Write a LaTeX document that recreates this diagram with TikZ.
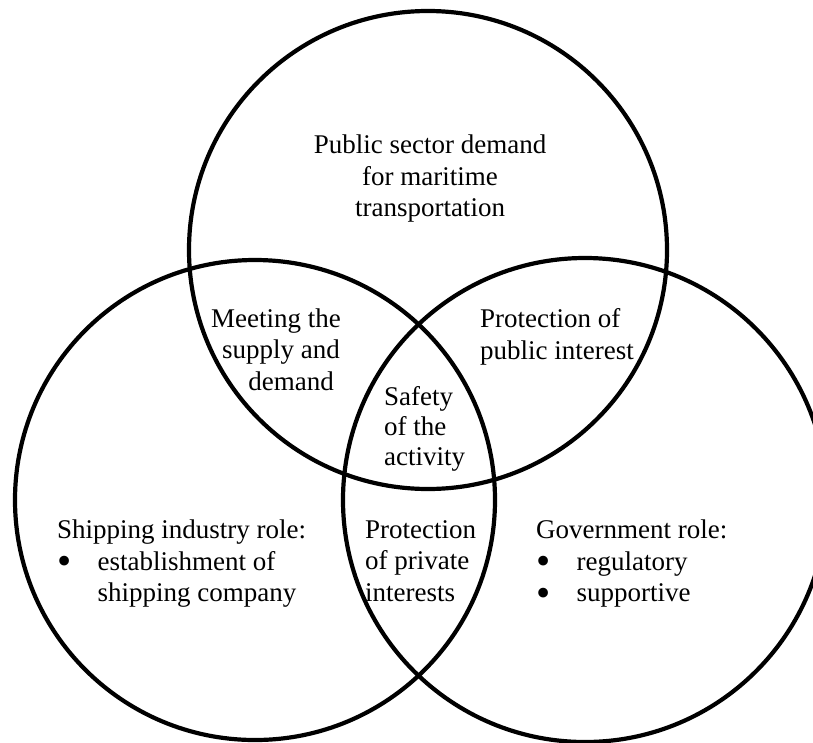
\documentclass[tikz,border=0pt]{standalone}
\usepackage{fontspec}
\setmainfont{Liberation Serif}
\tikzset{
  ring/.style={draw=black, line width=4.2pt},
  lbl/.style={inner sep=0pt, font=\fontsize{27}{31.5}\selectfont},
}
\newcommand{\bulletitem}[1]{\makebox[40.5pt][l]{\raisebox{-4.5pt}[0pt][0pt]{\scalebox{1.5}{\textbullet}}}#1}
\newcommand{\bulletcont}[1]{\hspace*{40.5pt}#1}
\begin{document}
\begin{tikzpicture}[x=1pt,y=-1pt]
\useasboundingbox (0,0) rectangle (813,742);
\fill[white] (0,0) rectangle (813,742);
% circle centres
\coordinate (ctop) at (428,250);
\coordinate (cleft) at (255,500);
\coordinate (cright) at (585,500);
\draw[ring] (ctop) circle[radius=239pt];
\draw[ring] (cleft) circle[radius=240pt];
\draw[ring] (cright) circle[radius=242pt];
% labels
\node[lbl, anchor=north, align=center] (public) at (430,134.6)
  {Public sector demand\\for maritime\\transportation};
\node[lbl, anchor=north, align=center] (meeting) at (276,308.3)
  {Meeting the\\\hspace*{10pt}supply and\\\hspace*{30pt}demand};
\node[lbl, anchor=north west, align=left] (pubint) at (480,308.6)
  {Protection of\\public interest};
\node[lbl, anchor=north west, align=left, font=\fontsize{27}{29.7}\selectfont] (safety) at (384,386.6)
  {Safety\\of the\\activity};
\node[lbl, anchor=north west, align=left] (shipping) at (57,519.6)
  {Shipping industry role:\\\bulletitem{establishment of}\\\bulletcont{shipping company}};
\node[lbl, anchor=north west, align=left] (private) at (365,520)
  {Protection\\of private\\interests};
\node[lbl, anchor=north west, align=left] (gov) at (536,519.6)
  {Government role:\\\bulletitem{regulatory}\\\bulletitem{supportive}};
\end{tikzpicture}
\end{document}
